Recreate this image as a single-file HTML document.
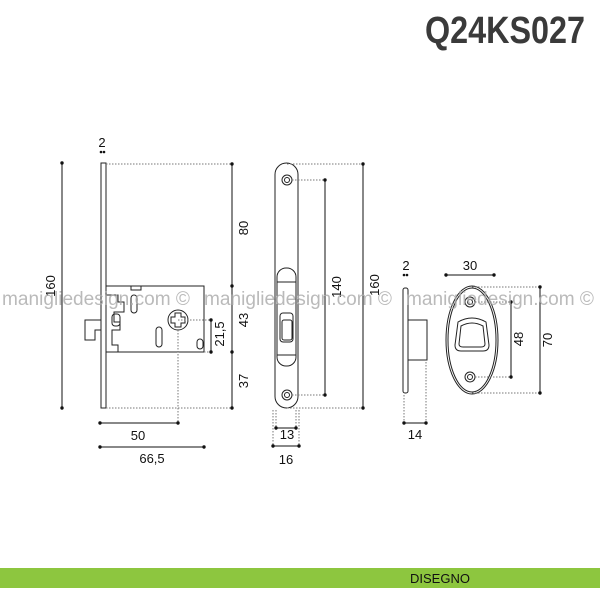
<!DOCTYPE html>
<html><head><style>
html,body{margin:0;padding:0;background:#fff;}
svg{display:block;font-family:"Liberation Sans",sans-serif;}
</style></head><body>
<svg width="600" height="600" viewBox="0 0 600 600" xmlns="http://www.w3.org/2000/svg">
<rect width="600" height="600" fill="#fff"/>
<text x="585" y="43" font-size="38" font-weight="bold" fill="#3a3a3a" text-anchor="end" textLength="160" lengthAdjust="spacingAndGlyphs">Q24KS027</text>

<g fill="none" stroke="#222" stroke-width="1">
<rect x="101" y="163" width="5" height="245"/>
<path d="M106 286 H204 V352 H106"/>
<path d="M101 320 H85 V340 H95 V330 H101"/>
<path d="M106 295 H118 V302 H124 V312 H114 V322 H120 V330 H112 V345 H118 V352"/>
<rect x="112" y="314" width="8" height="12" rx="3"/>
<rect x="131" y="295" width="6" height="18" rx="3"/>
<rect x="156" y="327" width="6" height="20" rx="3"/>
<rect x="131" y="286" width="10" height="4"/>
<rect x="197" y="339" width="6" height="10" rx="3"/>
<circle cx="178" cy="320" r="10"/>
<path d="M175 313 h6 v4 h4 v6 h-4 v4 h-6 v-4 h-4 v-6 h4z"/>
<rect x="275" y="163" width="23" height="245" rx="11.5"/>
<circle cx="287" cy="180" r="5"/><circle cx="287" cy="180" r="2.5"/>
<circle cx="287" cy="395" r="5"/><circle cx="287" cy="395" r="2.5"/>
<rect x="277" y="268" width="19" height="98" rx="9"/>
<path d="M277 282 H296 M277 355 H296"/>
<rect x="280" y="313" width="13" height="29" rx="3"/>
<rect x="282" y="320" width="10" height="20" rx="2"/>
<rect x="403" y="288" width="5" height="105" rx="2"/>
<rect x="408" y="320" width="19" height="40"/>
<ellipse cx="472" cy="340" rx="26" ry="54"/>
<ellipse cx="472" cy="340" rx="24" ry="52"/>
<circle cx="470" cy="302" r="5"/><circle cx="470" cy="302" r="2.5"/>
<circle cx="470" cy="377" r="5"/><circle cx="470" cy="377" r="2.5"/>
<path d="M458 322 Q472 314 486 322 L489 345 Q489 351 483 351 H461 Q455 351 455 345Z"/>
<path d="M461 326 Q472 320 483 326 L485 344 Q485 347 481 347 H463 Q459 347 459 344Z"/>
</g>

<g stroke="#777" stroke-width="1" stroke-dasharray="1.5,1.5" fill="none">
<path d="M106 164 H232 M106 408 H232 M178 320 H211 M204 352 H211 M178 330 V423"/>
<path d="M287 164 H363 M287 408 H363 M292 180 H325 M292 395 H325"/>
<path d="M276 410 V428 M296 410 V428 M273 410 V446 M299 410 V446"/>
<path d="M472 287 H540 M472 393 H540 M475 302 H511 M475 377 H511 M404 395 V423 M426 362 V423"/>
</g>

<g stroke="#111" stroke-width="1" fill="#111">
<path d="M62 163 V408 M232 164 V408 M211 320 V352 M100 423 H178 M100 447 H204"/>
<path d="M325 180 V395 M363 164 V408 M276 428 H296 M273 446 H299"/>
<path d="M404 423 H426 M446 275 H494 M511 302 V377 M540 287 V393"/>
<g stroke="none">
<circle cx="62" cy="163" r="1.7"/><circle cx="62" cy="408" r="1.7"/>
<circle cx="232" cy="164" r="1.7"/><circle cx="232" cy="286" r="1.7"/><circle cx="232" cy="352" r="1.7"/><circle cx="232" cy="408" r="1.7"/>
<circle cx="211" cy="320" r="1.7"/><circle cx="211" cy="352" r="1.7"/>
<circle cx="100" cy="423" r="1.7"/><circle cx="178" cy="423" r="1.7"/><circle cx="100" cy="447" r="1.7"/><circle cx="204" cy="447" r="1.7"/>
<circle cx="101" cy="152" r="1.3"/><circle cx="104" cy="152" r="1.3"/>
<circle cx="325" cy="180" r="1.7"/><circle cx="325" cy="395" r="1.7"/><circle cx="363" cy="164" r="1.7"/><circle cx="363" cy="408" r="1.7"/>
<circle cx="276" cy="428" r="1.7"/><circle cx="296" cy="428" r="1.7"/><circle cx="273" cy="446" r="1.7"/><circle cx="299" cy="446" r="1.7"/>
<circle cx="404" cy="423" r="1.7"/><circle cx="426" cy="423" r="1.7"/>
<circle cx="446" cy="275" r="1.7"/><circle cx="494" cy="275" r="1.7"/>
<circle cx="511" cy="302" r="1.7"/><circle cx="511" cy="377" r="1.7"/><circle cx="540" cy="287" r="1.7"/><circle cx="540" cy="393" r="1.7"/>
<circle cx="404" cy="275" r="1.3"/><circle cx="407" cy="275" r="1.3"/>
</g>
</g>

<g font-size="13" fill="#111">
<text x="102" y="147" text-anchor="middle">2</text>
<text x="406" y="270" text-anchor="middle">2</text>
<text x="138" y="440" text-anchor="middle">50</text>
<text x="152" y="463" text-anchor="middle">66,5</text>
<text x="287" y="439" text-anchor="middle">13</text>
<text x="286" y="464" text-anchor="middle">16</text>
<text x="415" y="439" text-anchor="middle">14</text>
<text x="470" y="270" text-anchor="middle">30</text>
<text transform="translate(55,286) rotate(-90)" text-anchor="middle">160</text>
<text transform="translate(248,228) rotate(-90)" text-anchor="middle">80</text>
<text transform="translate(248,320) rotate(-90)" text-anchor="middle">43</text>
<text transform="translate(248,381) rotate(-90)" text-anchor="middle">37</text>
<text transform="translate(224,334) rotate(-90)" text-anchor="middle">21,5</text>
<text transform="translate(341,287) rotate(-90)" text-anchor="middle">140</text>
<text transform="translate(379,285) rotate(-90)" text-anchor="middle">160</text>
<text transform="translate(523,339) rotate(-90)" text-anchor="middle">48</text>
<text transform="translate(552,340) rotate(-90)" text-anchor="middle">70</text>
</g>

<g font-size="19" fill="#aaa" opacity="0.8">
<text x="2" y="305" textLength="188" lengthAdjust="spacingAndGlyphs">manigliedesign.com ©</text>
<text x="204" y="305" textLength="188" lengthAdjust="spacingAndGlyphs">manigliedesign.com ©</text>
<text x="406" y="305" textLength="188" lengthAdjust="spacingAndGlyphs">manigliedesign.com ©</text>
</g>

<rect x="0" y="568" width="600" height="20" fill="#8dc63f"/>
<text x="440" y="583" font-size="13" fill="#111" text-anchor="middle">DISEGNO</text>
</svg>
</body></html>
